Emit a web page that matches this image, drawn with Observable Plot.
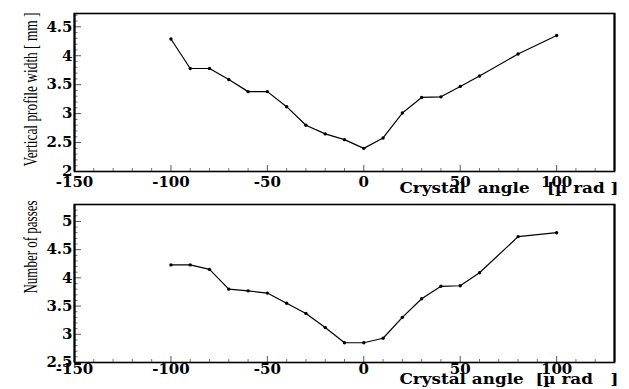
<!DOCTYPE html>
<html><head><meta charset="utf-8">
<script src="https://cdn.jsdelivr.net/npm/d3@7"></script>
<script src="https://cdn.jsdelivr.net/npm/@observablehq/plot@0.6"></script>
<style>
html,body{margin:0;padding:0;background:#fff;}
#chart svg{display:block;}
svg text{white-space:pre;}
</style></head><body><div id="chart"></div>
<script>
const angles = [-100,-90,-80,-70,-60,-50,-40,-30,-20,-10,0,10,20,30,40,50,60,80,100];
const profileWidth = [4.29,3.78,3.78,3.59,3.38,3.38,3.12,2.80,2.65,2.55,2.40,2.58,3.01,3.28,3.29,3.47,3.65,4.03,4.35];
const passes = [4.23,4.23,4.15,3.80,3.77,3.73,3.55,3.37,3.12,2.85,2.85,2.93,3.30,3.63,3.85,3.86,4.09,4.73,4.80];
const xTickLabels = [-150,-100,-50,0,50,100];
const topYTicks = [2,2.5,3,3.5,4,4.5];
const bottomYTicks = [2.5,3,3.5,4,4.5,5];
const topYTitle = "Vertical profile width [ mm ]";
const bottomYTitle = "Number of passes";
const topXTitle = "Crystal  angle   [µ rad ]";
const bottomXTitle = "Crystal angle  [µ rad   ]";

const xDomain = [-150, 130];
const W = 629, ML = 74, MR = 15;

function panel(o){
  const data = angles.map((a,i)=>({a, v:o.values[i]}));
  const frameW = W - ML - MR, frameH = o.height - o.marginTop - o.marginBottom;
  const xAll = d3.range(-140, 130, 10);
  const xMajor = xAll.filter(d => d % 50 === 0);
  const xMinor = xAll.filter(d => d % 50 !== 0);
  const lo = Math.round(o.yDomain[0]*10), hi = Math.floor(o.yDomain[1]*10+1e-6);
  const yAll = d3.range(lo+1, hi+1);
  const yMajor = yAll.filter(i => i % 5 === 0).map(i=>i/10);
  const yMinor = yAll.filter(i => i % 5 !== 0).map(i=>i/10);
  const svg = Plot.plot({
    width: W, height: o.height,
    marginLeft: ML, marginRight: MR, marginTop: o.marginTop, marginBottom: o.marginBottom,
    x: {domain: xDomain},
    y: {domain: o.yDomain},
    style: {background:"none", overflow:"visible"},
    marks: [
      Plot.tickX(xMinor, {x:d=>d, insetTop: frameH - 3, stroke:"#777"}),
      Plot.tickX(xMajor, {x:d=>d, insetTop: frameH - 6, stroke:"#555"}),
      Plot.tickY(yMinor, {y:d=>d, insetRight: frameW - 3.5, stroke:"#777"}),
      Plot.tickY(yMajor, {y:d=>d, insetRight: frameW - 7, stroke:"#555"}),
      Plot.frame({strokeWidth:1.6}),
      Plot.ruleX([xDomain[0], xDomain[1]], {strokeWidth:2}),
      Plot.axisX(xTickLabels, {tickSize:0, tickPadding:o.xLabelPad, label:null, tickFormat:d=>String(d), fontFamily:"DejaVu Serif", fontSize:15}),
      Plot.axisY(o.yTicks, {tickSize:0, tickPadding:2, label:null, tickFormat:d=>String(d), fontFamily:"DejaVu Serif", fontSize:15}),
      Plot.line(data, {x:"a", y:"v", stroke:"black", strokeWidth:1.2}),
      Plot.dot(data, {x:"a", y:"v", r:1.7, fill:"black"}),
      Plot.text([o.xTitle], {text:d=>d, frameAnchor:"bottom-right", textAnchor:"end", dx:4, dy:o.xTitleDy, fontFamily:"DejaVu Serif", fontWeight:"bold", fontSize:14}),
      Plot.text([o.yTitle], {text:d=>d, frameAnchor:"top-left", textAnchor:"end", rotate:-90, dx:-50, dy:o.yTitleDy, fontFamily:"Liberation Serif", fontSize:18})
    ]
  });
  const s = d3.select(svg);
  s.selectAll("g[aria-label='x-axis tick label'], g[aria-label='y-axis tick label']")
    .attr("font-weight","bold");
  s.selectAll("text").filter(function(){return this.textContent===o.yTitle;})
    .attr("textLength", o.yTitleLen).attr("lengthAdjust","spacingAndGlyphs");
  s.selectAll("text").filter(function(){return this.textContent===o.xTitle;})
    .attr("textLength", 219).attr("lengthAdjust","spacingAndGlyphs");
  return svg;
}

const chart = document.getElementById("chart");
chart.appendChild(panel({values:profileWidth, yDomain:[2,4.73], yTicks:topYTicks, height:196, marginTop:13, marginBottom:25, xLabelPad:5, yTitle:topYTitle, xTitle:topXTitle, xTitleDy:21, yTitleDy:-1, yTitleLen:154}));
chart.appendChild(panel({values:passes, yDomain:[2.5,5.3], yTicks:bottomYTicks, height:193, marginTop:8, marginBottom:27, xLabelPad:1, yTitle:bottomYTitle, xTitle:bottomXTitle, xTitleDy:21, yTitleDy:-4, yTitleLen:93}));
</script></body></html>
